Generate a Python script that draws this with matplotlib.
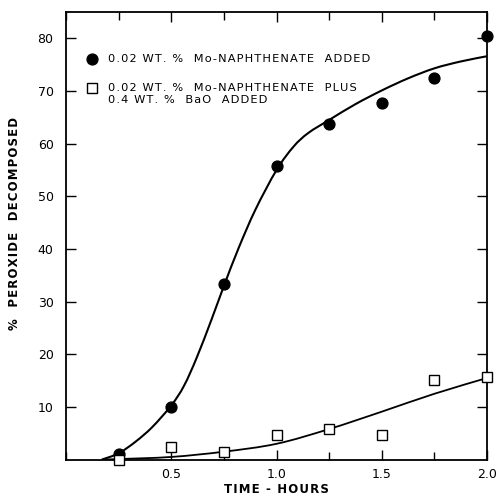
import numpy as np
import matplotlib
matplotlib.use("Agg")
import matplotlib.pyplot as plt
from matplotlib.path import Path
from matplotlib.patches import PathPatch
from matplotlib.ticker import MultipleLocator

# ── Data ──────────────────────────────────────────────────────────────────────

hours = [0.25, 0.5, 0.75, 1.0, 1.25, 1.5, 1.75, 2.0]
mo_only = [1.0, 10.0, 33.3, 55.7, 63.7, 67.8, 72.4, 80.5]
mo_bao = [0.0, 2.3, 1.5, 4.7, 5.8, 4.6, 15.2, 15.6]

# hand-drawn smooth curves
curve_mo_t = [0.17, 0.25, 0.33, 0.41, 0.50, 0.56, 0.62, 0.69, 0.75, 0.82,
              0.90, 1.00, 1.08, 1.15, 1.25, 1.375, 1.50, 1.625, 1.75, 1.875,
              2.00]
curve_mo_v = [0.0, 1.2, 3.4, 6.2, 10.3, 14.0, 19.3, 26.5, 33.0, 40.2,
              47.5, 55.0, 59.4, 62.0, 64.5, 67.5, 70.1, 72.4, 74.3, 75.6,
              76.6]
curve_bao_t = [0.17, 0.25, 0.50, 0.75, 1.00, 1.25, 1.50, 1.75, 2.00]
curve_bao_v = [0.0, 0.1, 0.5, 1.5, 3.0, 5.8, 9.1, 12.5, 15.5]

legend_1 = "0.02 WT. %  Mo-NAPHTHENATE  ADDED"
legend_2a = "0.02 WT. %  Mo-NAPHTHENATE  PLUS"
legend_2b = "0.4 WT. %  BaO  ADDED"


def spaced(s):
    # mimic the wide letter spacing of the original lettering
    return "\u200a".join(s)


def smooth_path(xs, ys):
    # Catmull-Rom through the traced points, drawn as cubic Bezier segments
    p = np.column_stack([xs, ys]).astype(float)
    p = np.vstack([p[0], p, p[-1]])
    verts = [p[1]]
    codes = [Path.MOVETO]
    for i in range(1, len(p) - 2):
        c1 = p[i] + (p[i + 1] - p[i - 1]) / 6.0
        c2 = p[i + 1] - (p[i + 2] - p[i]) / 6.0
        verts += [c1, c2, p[i + 1]]
        codes += [Path.CURVE4] * 3
    return Path(verts, codes)


# ── Figure ────────────────────────────────────────────────────────────────────

plt.rcParams["font.family"] = ["DejaVu Sans"]

fig = plt.figure(figsize=(4.97, 4.99), dpi=100)
fig.patch.set_facecolor("white")
ax = fig.add_axes([0.133, 0.079, 0.847, 0.897])

ax.add_patch(PathPatch(smooth_path(curve_mo_t, curve_mo_v), fc="none",
                       ec="black", lw=1.5, zorder=2))
ax.add_patch(PathPatch(smooth_path(curve_bao_t, curve_bao_v), fc="none",
                       ec="black", lw=1.3, zorder=2))
ax.plot(hours, mo_only, "o", color="black", ms=7.8, zorder=3, clip_on=False)
ax.plot(hours, mo_bao, "s", mfc="white", mec="black", mew=1.0, ms=7.5,
        zorder=3, clip_on=False)

ax.set_xlim(0, 2.0)
ax.set_ylim(0, 85)
ax.xaxis.set_minor_locator(MultipleLocator(0.25))
ax.set_xticks([0.5, 1.0, 1.5, 2.0])
ax.set_xticklabels(["0.5", "1.0", "1.5", "2.0"])
ax.set_yticks([10, 20, 30, 40, 50, 60, 70, 80])
ax.tick_params(which="both", direction="in", top=True, right=True, width=1.0)
ax.tick_params(axis="y", labelsize=9, pad=9)
ax.tick_params(axis="x", labelsize=9, pad=6)
ax.tick_params(which="major", length=7)
ax.tick_params(which="minor", length=6)
for s in ax.spines.values():
    s.set_linewidth(1.3)

ax.set_xlabel(spaced("TIME - HOURS"), fontsize=8.5, fontweight="bold")
ax.xaxis.set_label_coords(0.5, -0.052)
ax.set_ylabel(spaced("%  PEROXIDE  DECOMPOSED"), fontsize=8.5,
              fontweight="bold")
ax.yaxis.set_label_coords(-0.108, 0.528)

# legend drawn as text beside marker symbols
ax.plot([0.123], [76.0], "o", color="black", ms=7.8)
ax.text(0.199, 76.0, spaced(legend_1), fontsize=8.2, va="center", ha="left")
ax.plot([0.123], [70.5], "s", mfc="white", mec="black", mew=1.0, ms=7.5)
ax.text(0.199, 70.6, spaced(legend_2a), fontsize=8.2, va="center", ha="left")
ax.text(0.199, 68.2, spaced(legend_2b), fontsize=8.2, va="center", ha="left")

fig.savefig("out.png", dpi=100, facecolor="white")
